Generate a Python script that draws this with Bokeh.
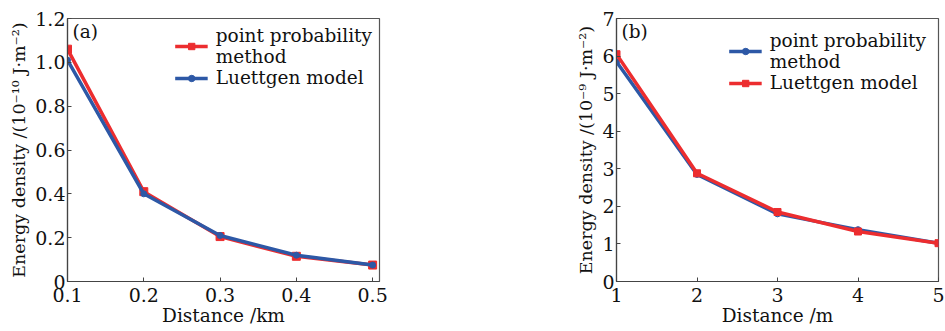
from bokeh.plotting import figure
from bokeh.layouts import row
from bokeh.models import FixedTicker, Legend, LegendItem, Label, Range1d
from bokeh.embed import file_html
from bokeh.resources import INLINE

# ---- data ----
dist_a = [0.1, 0.2, 0.3, 0.4, 0.5]
ppm_a = [1.06, 0.41, 0.205, 0.115, 0.075]
lutt_a = [1.01, 0.40, 0.21, 0.12, 0.075]

dist_b = [1, 2, 3, 4, 5]
ppm_b = [5.85, 2.85, 1.80, 1.38, 1.02]
lutt_b = [6.05, 2.88, 1.85, 1.33, 1.02]

xticks_a = [0.1, 0.2, 0.3, 0.4, 0.5]
yticks_a = [0, 0.2, 0.4, 0.6, 0.8, 1.0, 1.2]
yticklabels_a = ["0", "0.2", "0.4", "0.6", "0.8", "1.0", "1.2"]
xticks_b = [1, 2, 3, 4, 5]
yticks_b = [0, 1, 2, 3, 4, 5, 6, 7]

RED = "#ec2d2f"
BLUE = "#2d58a6"
FONT = "DejaVu Serif"


def style(p, xt, yt, ylabels=None):
    p.outline_line_color = "#555555"
    p.outline_line_width = 1.2
    p.xgrid.visible = False
    p.ygrid.visible = False
    p.background_fill_color = "white"
    p.border_fill_color = "white"
    for ax in (p.xaxis[0], p.yaxis[0]):
        ax.axis_line_color = "#444444"
        ax.axis_line_width = 1.2
        ax.major_tick_in = 4
        ax.major_tick_out = 0
        ax.minor_tick_line_color = None
        ax.major_tick_line_color = "#444444"
        ax.major_label_text_font = FONT
        ax.major_label_text_font_size = "19px"
        ax.major_label_text_color = "#111111"
        ax.axis_label_text_font = FONT
        ax.axis_label_text_font_style = "normal"
        ax.axis_label_text_color = "#111111"
    p.xaxis[0].ticker = FixedTicker(ticks=xt)
    p.yaxis[0].ticker = FixedTicker(ticks=yt)
    if ylabels:
        p.yaxis[0].major_label_overrides = {v: l for v, l in zip(yt, ylabels)}
    p.xaxis[0].axis_label_text_font_size = "18.5px"
    p.yaxis[0].axis_label_text_font_size = "17.5px"
    p.xaxis[0].major_label_standoff = 6
    p.xaxis[0].axis_label_standoff = 0
    p.yaxis[0].major_label_standoff = 2
    p.yaxis[0].axis_label_standoff = 3


# ---- figure (a) ----
pa = figure(width=394, height=331, output_backend="svg", toolbar_location=None,
            x_range=Range1d(0.1, 0.509), y_range=Range1d(0, 1.2),
            min_border_left=67, min_border_right=15, min_border_top=18,
            min_border_bottom=50,
            x_axis_label="Distance /km",
            y_axis_label="Energy density /(10\u207b\u00b9\u2070 J\u00b7m\u207b\u00b2)")
style(pa, xticks_a, yticks_a, yticklabels_a)
ra_l = pa.line(dist_a, ppm_a, line_color=RED, line_width=3.5)
ra_m = pa.scatter(dist_a, ppm_a, marker="square", size=8, fill_color=RED, line_color=RED)
ba_l = pa.line(dist_a, lutt_a, line_color=BLUE, line_width=3.5)
ba_m = pa.scatter(dist_a, lutt_a, marker="circle", size=6, fill_color=BLUE, line_color=BLUE)
leg_a = Legend(items=[LegendItem(label="point probability\nmethod", renderers=[ra_l, ra_m]),
                      LegendItem(label="Luettgen model", renderers=[ba_l, ba_m])],
               location="top_right", border_line_color=None, background_fill_alpha=0,
               label_text_font=FONT, label_text_font_size="18.5px", label_text_color="#111111",
               glyph_width=33, glyph_height=16, label_standoff=8, spacing=0,
               padding=4, margin=7, label_height=21, label_text_line_height=1.05)
pa.add_layout(leg_a)
pa.add_layout(Label(x=0.1, y=1.2, x_offset=5, y_offset=-2, text="(a)",
                    text_font=FONT, text_font_size="18.5px", text_baseline="top",
                    text_color="#111111"))

# ---- figure (b) ----
pb = figure(width=550, height=331, output_backend="svg", toolbar_location=None,
            x_range=Range1d(1, 5), y_range=Range1d(0, 7),
            min_border_left=222, min_border_right=6, min_border_top=18,
            min_border_bottom=50,
            x_axis_label="Distance /m",
            y_axis_label="Energy density /(10\u207b\u2079 J\u00b7m\u207b\u00b2)")
style(pb, xticks_b, yticks_b)
bb_l = pb.line(dist_b, ppm_b, line_color=BLUE, line_width=3.5)
bb_m = pb.scatter(dist_b, ppm_b, marker="circle", size=6, fill_color=BLUE, line_color=BLUE)
rb_l = pb.line(dist_b, lutt_b, line_color=RED, line_width=3.5)
rb_m = pb.scatter(dist_b, lutt_b, marker="square", size=7, fill_color=RED, line_color=RED)
leg_b = Legend(items=[LegendItem(label="point probability\nmethod", renderers=[bb_l, bb_m]),
                      LegendItem(label="Luettgen model", renderers=[rb_l, rb_m])],
               location="top_right", border_line_color=None, background_fill_alpha=0,
               label_text_font=FONT, label_text_font_size="18.5px", label_text_color="#111111",
               glyph_width=33, glyph_height=16, label_standoff=8, spacing=0,
               padding=4, margin=12, label_height=21, label_text_line_height=1.05)
pb.add_layout(leg_b)
pb.add_layout(Label(x=1, y=7, x_offset=5, y_offset=-2, text="(b)",
                    text_font=FONT, text_font_size="18.5px", text_baseline="top",
                    text_color="#111111"))

layout = row(pa, pb, spacing=0)
open("out.html", "w").write(file_html(layout, INLINE))
